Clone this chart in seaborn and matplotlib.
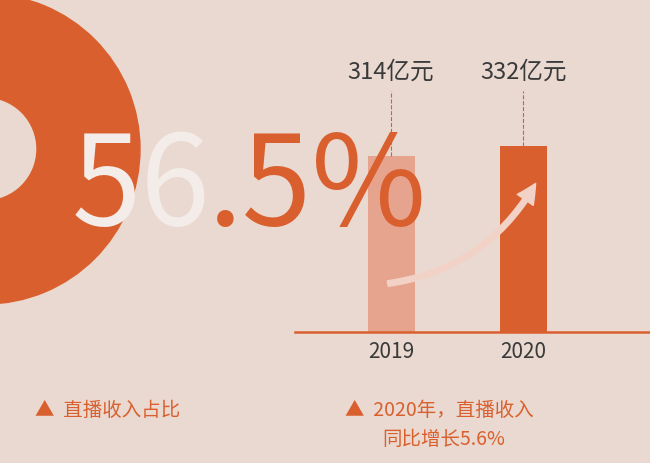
import matplotlib.pyplot as plt
import seaborn as sns
import pandas as pd
from matplotlib.patches import Wedge, FancyArrowPatch

sns.set_style('white')
plt.rcParams['font.family'] = ['Noto Sans CJK SC', 'DejaVu Sans']

bg = '#ead9d1'
orange = '#d9602e'
light = '#e6a48e'

years = ['2019', '2020']
revenue = [314, 332]
value_labels = ['314亿元', '332亿元']

fig = plt.figure(figsize=(6.5, 4.64), dpi=100)
fig.patch.set_facecolor(bg)

# pixel-space background axes
base = fig.add_axes([0, 0, 1, 1])
base.set_xlim(0, 650)
base.set_ylim(464, 0)
base.axis('off')
base.add_patch(Wedge((-15, 150), 155, 0, 360, width=103, color=orange))

# bar chart
ax = fig.add_axes([295 / 650, (464 - 333) / 464, 355 / 650, 333 / 464])
ax.set_facecolor('none')
df = pd.DataFrame({'year': years, 'revenue': revenue})
sns.barplot(data=df, x='year', y='revenue', hue='year', palette=[light, orange],
            width=0.356, legend=False, ax=ax, saturation=1, edgecolor='none')
ax.set_ylim(0, 594)
ax.set_xlim(-0.727, 1.96)
for s in ['top', 'right', 'left']:
    ax.spines[s].set_visible(False)
ax.spines['bottom'].set_color(orange)
ax.spines['bottom'].set_linewidth(1.8)
ax.set_yticks([])
ax.set_xlabel('')
ax.set_ylabel('')
ax.tick_params(axis='x', length=0, labelsize=15, colors='#3a3a3a', pad=6)
for i, (v, lab) in enumerate(zip(revenue, value_labels)):
    ax.plot([i, i], [v, 430], ls='--', color=orange, lw=0.8)
    ax.text(i, 465, lab, ha='center', va='center', fontsize=17, color='#3a3a3a')

# overlay for text and arrow
top = fig.add_axes([0, 0, 1, 1])
top.set_xlim(0, 650)
top.set_ylim(464, 0)
top.axis('off')
top.patch.set_alpha(0)
top.text(72, 190, '56', fontsize=90, color='#f4ece8', va='center', ha='left')
top.text(208, 190, '.5%', fontsize=90, color=orange, va='center', ha='left')
top.add_patch(FancyArrowPatch((385, 285), (537, 182), connectionstyle='arc3,rad=0.25',
                              arrowstyle='simple,head_width=14,head_length=14,tail_width=4',
                              color='#f2d2c6'))

top.text(35, 410, '▲  直播收入占比', fontsize=14, color=orange, va='center')
top.text(345, 410, '▲  2020年，直播收入', fontsize=14, color=orange, va='center')
top.text(382, 440, '同比增长5.6%', fontsize=14, color=orange, va='center')

fig.savefig('out.png', dpi=100, facecolor=bg)
